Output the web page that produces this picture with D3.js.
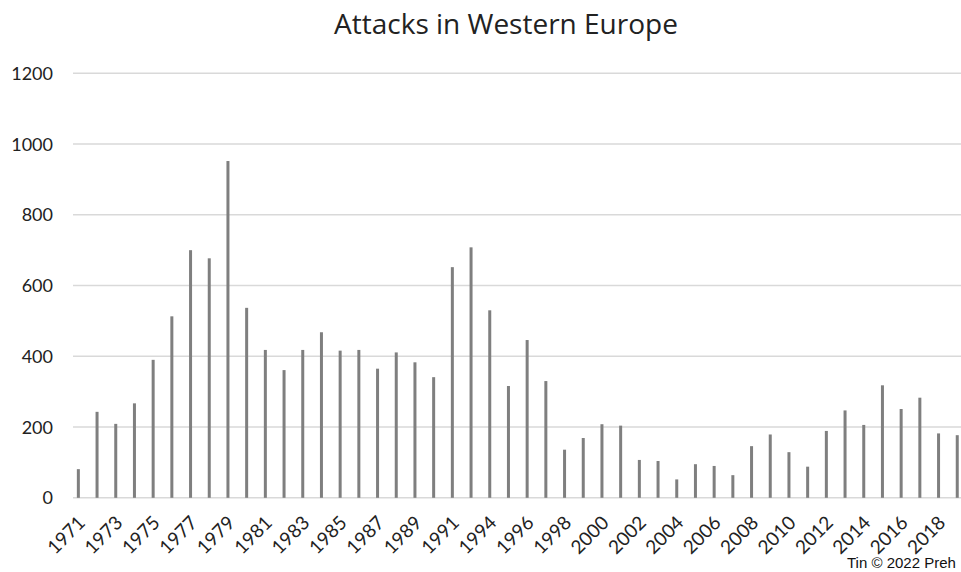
<!DOCTYPE html>
<html>
<head>
<meta charset="utf-8">
<script src="https://cdn.jsdelivr.net/npm/d3@7"></script>
<style>
  body { margin: 0; background: #fff; }
  svg { display: block; }
</style>
</head>
<body>
<script>
// years (1993 is missing in the source data)
var years = ["1971","1972","1973","1974","1975","1976","1977","1978","1979","1980",
             "1981","1982","1983","1984","1985","1986","1987","1988","1989","1990",
             "1991","1992","1994","1995","1996","1997","1998","1999","2000","2001",
             "2002","2003","2004","2005","2006","2007","2008","2009","2010","2011",
             "2012","2013","2014","2015","2016","2017","2018","2019"];

var attacks = [81, 243, 209, 267, 390, 513, 700, 677, 952, 537,
               418, 361, 418, 468, 416, 418, 365, 411, 383, 341,
               652, 708, 530, 316, 446, 330, 136, 169, 208, 204,
               107, 104, 52, 95, 90, 64, 146, 179, 129, 88,
               189, 247, 206, 318, 251, 283, 182, 177];

var yTicks = [0, 200, 400, 600, 800, 1000, 1200];

var w = 961;
var h = 572;

var svg = d3.select("body").append("svg")
          .attr("width", w)
          .attr("height", h);

var x = d3.scaleBand()
          .domain(years)
          .range([69, 966.6]);

var y = d3.scaleLinear()
          .domain([0, 1200])
          .range([497.8, 73.3]);

// gridlines
svg.selectAll("line.grid").data(yTicks)
   .enter().append("line")
   .attr("class", "grid")
   .attr("x1", 73)
   .attr("x2", w)
   .attr("y1", function(d) { return y(d); })
   .attr("y2", function(d) { return y(d); })
   .attr("stroke", "#d9d9d9")
   .attr("stroke-width", 1.5);

// y labels
svg.selectAll("text.ylab").data(yTicks)
   .enter().append("text")
   .attr("class", "ylab")
   .text(function(d) { return d; })
   .attr("x", 53)
   .attr("y", function(d) { return y(d) + 6.5; })
   .attr("text-anchor", "end")
   .attr("font-family", "Lato, 'Open Sans', sans-serif")
   .attr("font-size", "18px")
   .attr("fill", "#222");

// bars
svg.selectAll("rect").data(attacks)
   .enter().append("rect")
   .attr("x", function(d, i) { return x(years[i]) + x.bandwidth() / 2 - 1.5; })
   .attr("y", function(d) { return y(d); })
   .attr("width", 3)
   .attr("height", function(d) { return y(0) - y(d); })
   .attr("fill", "#7f7f7f");

// x labels, every other year
svg.selectAll("text.xlab").data(years.filter(function(d, i) { return i % 2 == 0; }))
   .enter().append("text")
   .attr("class", "xlab")
   .text(function(d) { return d; })
   .attr("text-anchor", "end")
   .attr("transform", function(d) {
      var cx = x(d) + x.bandwidth() / 2 + 8;
      return "translate(" + cx + ",524) rotate(-45)";
   })
   .attr("font-family", "Lato, 'Open Sans', sans-serif")
   .attr("font-size", "19px")
   .attr("fill", "#222");

// title
svg.append("text")
   .text("Attacks in Western Europe")
   .attr("x", 506)
   .attr("y", 34)
   .attr("text-anchor", "middle")
   .attr("font-family", "'Open Sans', sans-serif")
   .attr("font-size", "28px")
   .attr("fill", "#222");

// credit line (cut off at the right edge in the original)
svg.append("text")
   .text("Tin © 2022 Preh")
   .attr("x", 847)
   .attr("y", 568)
   .attr("font-family", "'Liberation Sans', Arial, sans-serif")
   .attr("font-size", "15px")
   .attr("fill", "#111");
</script>
</body>
</html>
